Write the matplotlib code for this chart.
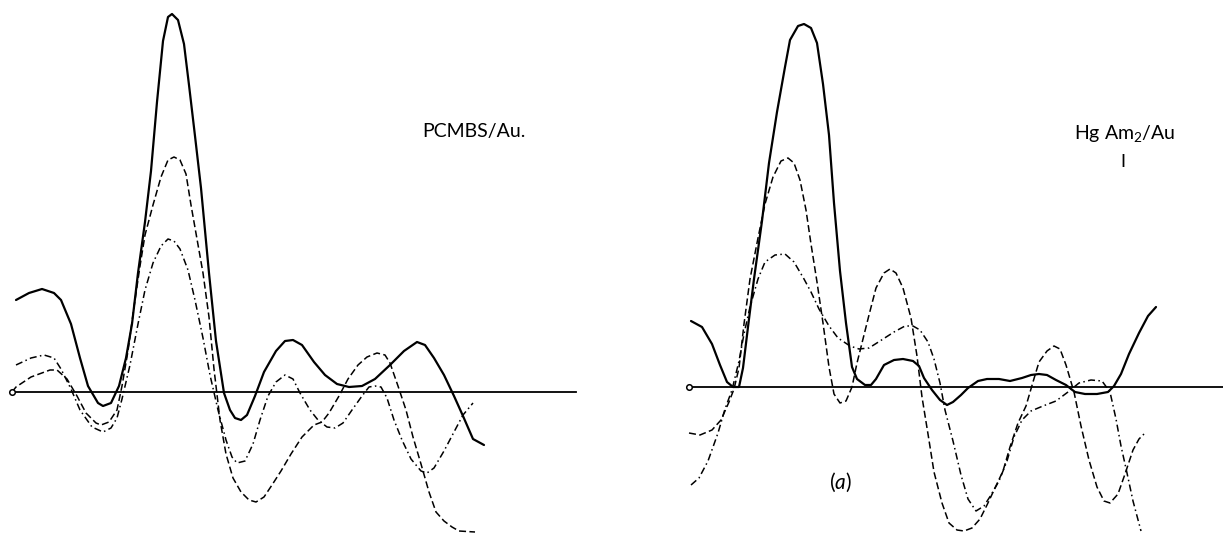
import matplotlib
matplotlib.use("Agg")
import matplotlib.pyplot as plt

plt.rcParams['font.family'] = ['Lato', 'DejaVu Sans']
plt.rcParams['mathtext.fontset'] = 'custom'
plt.rcParams['mathtext.rm'] = 'Lato'
plt.rcParams['mathtext.it'] = 'Lato:italic'

# ---- left panel: PCMBS/Au ----
ls_x = [4, 17, 30, 42, 49, 59, 68, 76, 86, 91, 99, 107, 114, 120, 126, 133, 139, 145, 151, 156,
        160, 166, 172, 177, 183, 189, 197, 204, 212, 218, 223, 229, 235, 243, 252, 264, 273, 281, 290, 302,
        313, 325, 337, 350, 363, 378, 392, 405, 413, 422, 432, 442, 451, 461, 472]
ls_y = [92, 99, 103, 99, 92, 68, 34, 6, -11, -14, -11, 6, 34, 68, 119, 170, 221, 290, 351, 375,
        378, 372, 348, 307, 256, 204, 119, 51, -1, -18, -26, -28, -23, -4, 20, 41, 51, 52, 47, 30,
        17, 8, 5, 6, 13, 27, 41, 50, 47, 34, 17, -4, -24, -47, -53]

ld_x = [0, 4, 19, 38, 45, 55, 65, 74, 84, 89, 97, 105, 110, 116, 122, 128, 133, 141, 149, 156,
        162, 168, 174, 179, 185, 191, 197, 202, 208, 214, 221, 229, 237, 244, 252, 260, 269, 279, 290, 302,
        310, 317, 327, 336, 346, 355, 365, 373, 378, 386, 394, 401, 409, 417, 424, 432, 440, 447, 463]
ld_y = [0, 5, 15, 22, 22, 13, -4, -21, -31, -33, -30, -18, 6, 41, 85, 126, 157, 187, 215, 232,
        235, 232, 218, 187, 153, 119, 75, 23, -28, -62, -86, -100, -108, -110, -105, -93, -79, -62, -45, -33,
        -30, -21, -4, 13, 27, 35, 39, 37, 29, 6, -18, -45, -72, -100, -120, -129, -135, -139, -140]

ldd_x = [4, 19, 32, 42, 49, 59, 68, 80, 91, 99, 105, 110, 118, 126, 133, 141, 149, 156, 162, 168,
         176, 183, 191, 198, 206, 214, 220, 225, 233, 241, 248, 256, 264, 273, 281, 288, 298, 306, 315, 323,
         331, 340, 350, 357, 363, 369, 375, 382, 390, 399, 409, 415, 422, 432, 442, 451, 461]
ldd_y = [27, 34, 37, 34, 23, 3, -18, -35, -40, -36, -26, -7, 27, 68, 102, 129, 146, 153, 151, 143,
         122, 92, 54, 17, -18, -48, -65, -71, -69, -52, -28, -4, 10, 17, 13, -1, -18, -28, -35, -36,
         -31, -18, -4, 5, 6, 5, -6, -28, -48, -67, -79, -81, -76, -59, -40, -23, -11]
left_base_end = 564

# ---- right panel: Hg Am2/Au I ----
rs_x = [2, 13, 23, 31, 38, 44, 50, 54, 59, 65, 73, 80, 88, 96, 101, 109, 115, 122, 128, 134,
        140, 145, 151, 157, 163, 168, 176, 182, 187, 195, 205, 214, 224, 230, 235, 243, 251, 258, 264, 272,
        279, 289, 298, 310, 321, 333, 342, 350, 358, 367, 377, 386, 396, 408, 419, 425, 432, 440, 450, 459, 467]
rs_y = [66, 60, 43, 22, 5, 0, 0, 19, 60, 108, 166, 224, 275, 320, 347, 361, 363, 359, 344, 303,
        252, 184, 116, 64, 20, 8, 2, 2, 8, 22, 27, 28, 26, 21, 9, -3, -13, -18, -15, -8,
        -1, 6, 8, 8, 6, 9, 12, 13, 12, 7, 2, -5, -7, -7, -5, 1, 13, 33, 54, 71, 80]

rd_x = [0, 11, 23, 32, 40, 45, 50, 55, 61, 69, 76, 84, 92, 99, 105, 111, 117, 122, 128, 134,
        140, 145, 151, 157, 163, 168, 174, 180, 187, 195, 201, 207, 214, 222, 228, 233, 239, 245, 253, 260,
        268, 275, 283, 291, 298, 306, 314, 321, 329, 337, 344, 350, 358, 365, 371, 377, 385, 392, 400, 408,
        415, 421, 429, 436, 444, 450, 455]
rd_y = [-46, -48, -43, -33, -15, -2, 19, 63, 108, 149, 183, 210, 226, 229, 224, 207, 177, 143, 105, 64,
        20, -7, -16, -14, 0, 24, 48, 72, 99, 114, 118, 114, 99, 69, 31, -10, -47, -85, -116, -136,
        -143, -144, -141, -132, -118, -101, -84, -60, -36, -19, 5, 25, 36, 41, 38, 22, -5, -39, -73, -100,
        -114, -116, -107, -87, -63, -52, -47]

rdd_x = [2, 10, 19, 29, 36, 43, 50, 55, 61, 69, 76, 86, 96, 105, 115, 122, 130, 140, 149, 161,
         170, 180, 191, 205, 216, 224, 231, 239, 245, 251, 256, 264, 272, 279, 287, 295, 302, 310, 318, 325,
         333, 342, 354, 367, 379, 390, 402, 413, 421, 427, 432, 438, 444, 452]
rdd_y = [-98, -91, -74, -46, -22, -3, 26, 53, 80, 108, 125, 132, 133, 125, 108, 95, 78, 61, 49, 41,
         38, 39, 46, 55, 61, 61, 57, 45, 28, 4, -23, -54, -88, -112, -124, -119, -108, -94, -74, -50,
         -33, -24, -19, -14, -5, 4, 7, 6, -5, -32, -59, -86, -114, -144]
right_base_end = 534

W, H = 1223, 536
fig = plt.figure(figsize=(W / 100, H / 100), dpi=100)
ax1 = fig.add_axes([0, 0, 600 / W, 1])
ax2 = fig.add_axes([620 / W, 0, 603 / W, 1])

solid = dict(color='black', lw=1.6, solid_capstyle='round', solid_joinstyle='round')
dashed = dict(color='black', lw=1.1, dashes=(4.6, 2.2))
dashdot = dict(color='black', lw=1.1, dashes=(4.6, 2.2, 1.0, 2.2))

ax1.plot([0, left_base_end], [0, 0], color='black', lw=1.3)
ax1.plot(ls_x, ls_y, **solid)
ax1.plot(ld_x, ld_y, **dashed)
ax1.plot(ldd_x, ldd_y, **dashdot)
ax1.plot([0], [0], 'o', ms=4, mfc='white', mec='black', mew=1.1)
ax1.set_xlim(-12, 588)
ax1.set_ylim(-144, 392)

ax2.plot([0, right_base_end], [0, 0], color='black', lw=1.3)
ax2.plot(rs_x, rs_y, **solid)
ax2.plot(rd_x, rd_y, **dashed)
ax2.plot(rdd_x, rdd_y, **dashdot)
ax2.plot([0], [0], 'o', ms=4, mfc='white', mec='black', mew=1.1)
ax2.set_xlim(-69, 534)
ax2.set_ylim(-149, 387)

for ax in (ax1, ax2):
    ax.axis('off')

fig.text(474 / W, 1 - 131 / H, 'PCMBS/Au.', ha='center', va='center', fontsize=14)
fig.text(1125 / W, 1 - 134 / H, 'Hg Am$_{2}$/Au', ha='center', va='center', fontsize=14)
fig.text(1123 / W, 1 - 162 / H, 'I', ha='center', va='center', fontsize=13)
fig.text(840 / W, 1 - 482 / H, '($a$)', ha='center', va='center', fontsize=15)

fig.savefig('out.png', dpi=100, facecolor='white')
